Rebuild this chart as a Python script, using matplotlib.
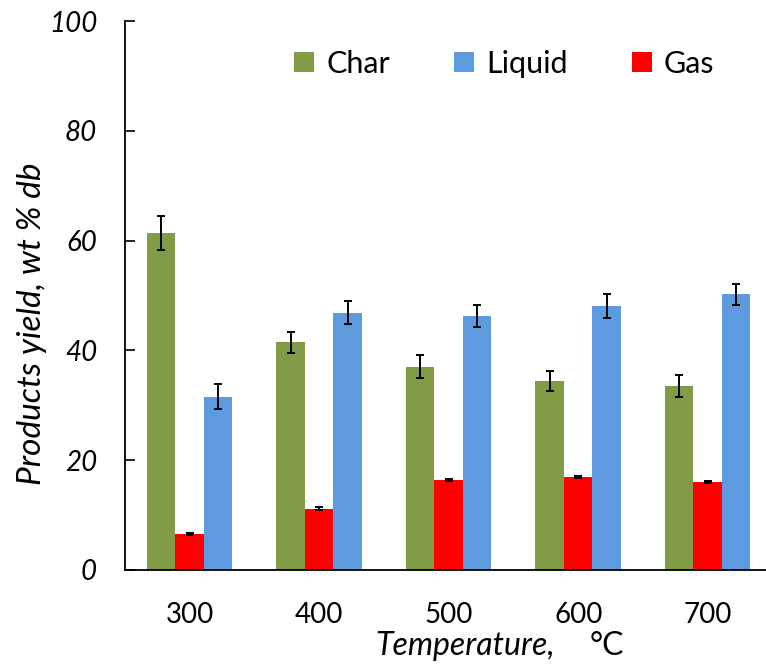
import numpy as np
import matplotlib
matplotlib.use("Agg")
import matplotlib.pyplot as plt

plt.rcParams['font.family'] = ['Lato', 'DejaVu Sans']

# data
temperatures = ['300', '400', '500', '600', '700']
char = [61.4, 41.5, 37.0, 34.5, 33.6]
char_err = [3.1, 1.9, 2.1, 1.8, 2.0]
gas = [6.5, 11.2, 16.4, 17.0, 16.0]
gas_err = [0.2, 0.2, 0.2, 0.2, 0.2]
liquid = [31.6, 46.9, 46.3, 48.1, 50.2]
liquid_err = [2.2, 2.1, 2.0, 2.2, 2.0]

green = '#819B47'
blue = '#5E9AE0'
red = '#FF0000'

fig = plt.figure(figsize=(7.66, 6.64), dpi=100)
ax = fig.add_axes([0.163, 0.1416, 0.837, 0.8265])

x = np.arange(len(temperatures))
w = 0.22
ekw = dict(ecolor='black', elinewidth=1.4, capsize=3, capthick=1.4)

ax.bar(x - w, char, w, color=green, yerr=char_err, error_kw=ekw, label='Char')
ax.bar(x + w, liquid, w, color=blue, yerr=liquid_err, error_kw=ekw, label='Liquid')
ax.bar(x, gas, w, color=red, yerr=gas_err, error_kw=ekw, label='Gas')

ax.set_xlim(-0.5, 4.45)
ax.set_ylim(0, 100)
ax.set_yticks(range(0, 101, 20))
ax.set_xticks(x)
ax.set_xticklabels(temperatures, fontsize=20)
for lab in ax.get_yticklabels():
    lab.set_fontsize(20)
    lab.set_fontstyle('italic')

ax.tick_params(axis='y', direction='in', length=7.5, width=1.2, pad=20)
ax.tick_params(axis='x', length=0, pad=23)
ax.spines['top'].set_visible(False)
ax.spines['right'].set_visible(False)
ax.spines['left'].set_linewidth(1.3)
ax.spines['bottom'].set_linewidth(1.3)

# axis titles placed by hand, as in the reference
fig.text(0.042, 0.5128, 'Products yield, wt % db', fontsize=24, fontstyle='italic',
         rotation=90, ha='center', va='center')
fig.text(0.4896, 0.0136, 'Temperature,', fontsize=23, fontstyle='italic',
         ha='left', va='baseline')
fig.text(0.770, 0.0136, '°C', fontsize=23, ha='left', va='baseline')

ax.legend(loc='center', bbox_to_anchor=(0.592, 0.922), ncol=3, frameon=False,
          fontsize=22, handlelength=0.65, handleheight=0.65, handletextpad=0.4,
          columnspacing=2.1)

fig.savefig('out.png', dpi=100)
